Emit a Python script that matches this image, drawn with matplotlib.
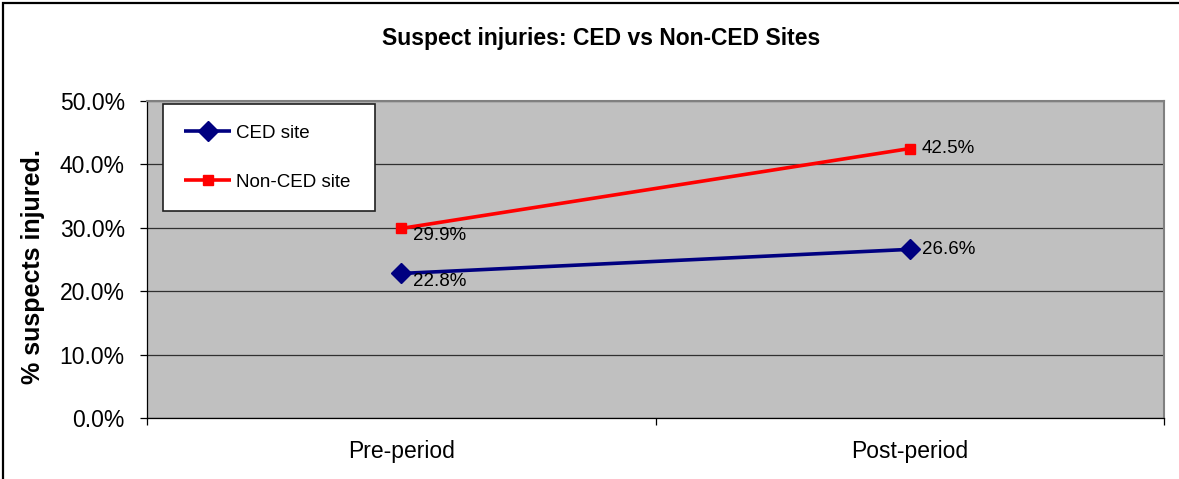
import matplotlib
matplotlib.use("Agg")
import matplotlib.pyplot as plt
from matplotlib.patches import Rectangle
from matplotlib.ticker import FuncFormatter

categories = ["Pre-period", "Post-period"]
ced_values = [22.8, 26.6]
nonced_values = [29.9, 42.5]
series_names = ["CED site", "Non-CED site"]
title = "Suspect injuries: CED vs Non-CED Sites"
ylabel = "% suspects injured."

plt.rcParams['font.family'] = ['Liberation Sans', 'DejaVu Sans']

W, H = 1179, 479
fig = plt.figure(figsize=(W / 100, H / 100), dpi=100)
fig.patch.set_facecolor('white')

ax = fig.add_axes([147 / W, 1 - 418 / H, (1164 - 147) / W, (418 - 101) / H])
ax.set_facecolor('#C0C0C0')

x = [i + 0.5 for i in range(len(categories))]
ax.plot(x, ced_values, color='#000080', lw=2.6, marker='D', ms=10,
        label=series_names[0], zorder=3, solid_capstyle='butt')
ax.plot(x, nonced_values, color='#FF0000', lw=2.6, marker='s', ms=6.5,
        label=series_names[1], zorder=3, solid_capstyle='butt')

ax.set_xlim(0, len(categories))
ax.set_ylim(0, 50)
ax.set_yticks(range(0, 51, 10))
ax.yaxis.set_major_formatter(FuncFormatter(lambda v, p: f"{v:.1f}%"))
ax.grid(axis='y', color='#303030', lw=0.9, zorder=1)
ax.set_axisbelow(True)

ax.set_xticks(range(0, len(categories) + 1))
ax.set_xticklabels([])
ax.set_xticks(x, minor=True)
ax.set_xticklabels(categories, minor=True)
ax.tick_params(axis='x', which='major', length=5, width=0.9, direction='out')
ax.tick_params(axis='x', which='minor', length=0, pad=16, labelsize=16.5)
ax.tick_params(axis='y', length=5, width=0.9, direction='out', pad=11, labelsize=16.5)

for s in ['top', 'right']:
    ax.spines[s].set_color('#808080')
    ax.spines[s].set_linewidth(1.5)
for s in ['left', 'bottom']:
    ax.spines[s].set_color('black')
    ax.spines[s].set_linewidth(0.9)

# data labels
for i, (xi, v) in enumerate(zip(x, ced_values)):
    dy = -6 if i == 0 else 0
    ax.annotate(f"{v:.1f}%", (xi, v), xytext=(8.5, dy), textcoords='offset points',
                ha='left', va='center', fontsize=13.5, zorder=4)
for i, (xi, v) in enumerate(zip(x, nonced_values)):
    dy = -5 if i == 0 else 0
    ax.annotate(f"{v:.1f}%", (xi, v), xytext=(8.5, dy), textcoords='offset points',
                ha='left', va='center', fontsize=13.5, zorder=4)

leg = ax.legend(loc='upper left',
                bbox_to_anchor=(163 / W, 1 - 208 / H, (375 - 163) / W, (208 - 104) / H),
                bbox_transform=fig.transFigure, mode='expand', borderaxespad=0,
                fontsize=13.5, frameon=True, fancybox=False, handlelength=2.55,
                handletextpad=0.25, labelspacing=1.7, borderpad=1.1)
leg.get_frame().set_edgecolor('#202020')
leg.get_frame().set_linewidth(1.2)
leg.get_frame().set_facecolor('white')
leg.get_frame().set_alpha(1)

fig.text(601 / W, 1 - 38 / H, title, ha='center', va='center',
         fontsize=16.5, fontweight='bold')
fig.text(33 / W, 1 - 267 / H, ylabel, ha='center', va='center', rotation=90,
         fontsize=18, fontweight='bold')

fig.add_artist(Rectangle((3 / W, -0.2), 1.2, 1.2 - 3 / H, transform=fig.transFigure,
                         fill=False, edgecolor='black', lw=1.6, clip_on=False))

fig.savefig("out.png", dpi=100)
